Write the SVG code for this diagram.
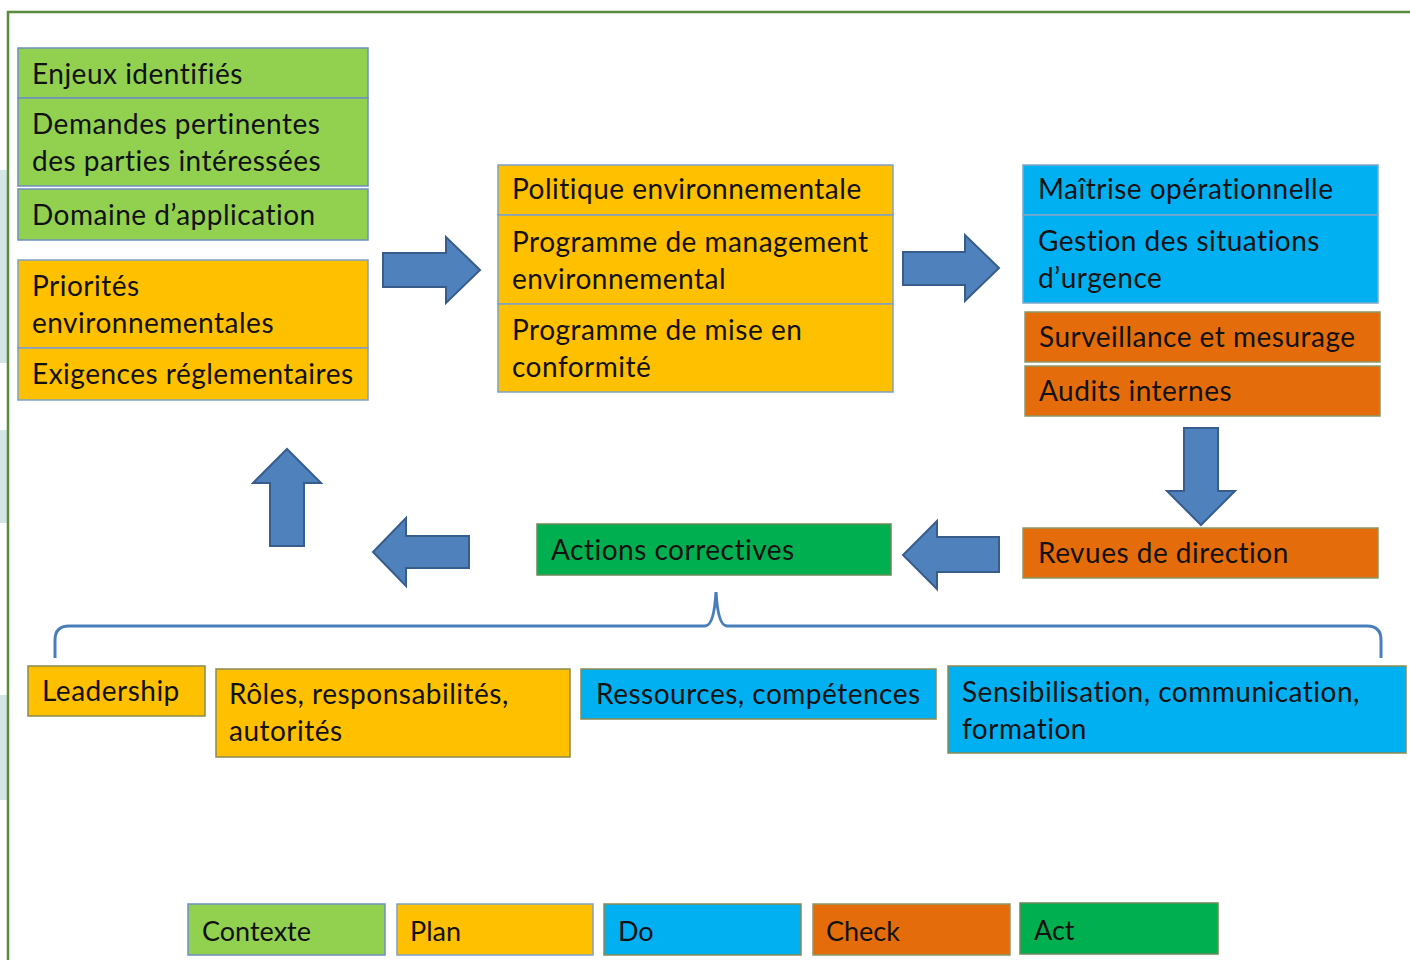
<svg xmlns="http://www.w3.org/2000/svg" width="1410" height="960" viewBox="0 0 1410 960">
<style>
text{font-family:Lato,"Liberation Sans",sans-serif;font-size:28px;letter-spacing:0.5px;fill:#111}
.lg{font-size:27px;letter-spacing:0}
.ctx{fill:#92d050;stroke:#6f8fc0;stroke-width:1.5}
.plan{fill:#ffc000;stroke:#7ea0c8;stroke-width:1.5}
.do{fill:#00b0f0;stroke:#7fa6c8;stroke-width:1.5}
.chk{fill:#e46c0a;stroke:#8a9a6a;stroke-width:1.5}
.act{fill:#00b050;stroke:#6a8a5a;stroke-width:1.5}
.pb{stroke:#8a8a50}
.arr{fill:#4f81bd;stroke:#385d8a;stroke-width:2;stroke-linejoin:miter}
</style>
<rect width="1410" height="960" fill="#fff"/>
<g id="edge-strips" fill="#d3e6e3">
<rect x="0" y="170" width="7" height="193"/>
<rect x="0" y="430" width="7" height="93"/>
<rect x="0" y="695" width="7" height="105"/>
</g>
<path id="frame" d="M8,960 V12 H1410" fill="none" stroke="#5a8a3c" stroke-width="2.5"/>

<g id="n-enjeux"><rect class="ctx" x="18" y="48" width="350" height="50"/><text x="32" y="84">Enjeux identifiés</text></g>
<g id="n-demandes"><rect class="ctx" x="18" y="98" width="350" height="88"/><text x="32" y="134">Demandes pertinentes</text><text x="32" y="171">des parties intéressées</text></g>
<g id="n-domaine"><rect class="ctx" x="18" y="189" width="350" height="51"/><text x="32" y="225">Domaine d’application</text></g>
<g id="n-priorites"><rect class="plan" x="18" y="260" width="350" height="88"/><text x="32" y="296">Priorités</text><text x="32" y="333">environnementales</text></g>
<g id="n-exigences"><rect class="plan" x="18" y="348" width="350" height="52"/><text x="32" y="384">Exigences réglementaires</text></g>

<g id="n-politique"><rect class="plan" x="498" y="165" width="395" height="50"/><text x="512" y="199">Politique environnementale</text></g>
<g id="n-progmgmt"><rect class="plan" x="498" y="215" width="395" height="89"/><text x="512" y="252">Programme de management</text><text x="512" y="289">environnemental</text></g>
<g id="n-progconf"><rect class="plan" x="498" y="304" width="395" height="88"/><text x="512" y="340">Programme de mise en</text><text x="512" y="377">conformité</text></g>

<g id="n-maitrise"><rect class="do" x="1023" y="165" width="355" height="50"/><text x="1038" y="199">Maîtrise opérationnelle</text></g>
<g id="n-gestion"><rect class="do" x="1023" y="215" width="355" height="88"/><text x="1038" y="251">Gestion des situations</text><text x="1038" y="288">d’urgence</text></g>
<g id="n-surveillance"><rect class="chk" x="1025" y="312" width="355" height="50"/><text x="1039" y="347">Surveillance et mesurage</text></g>
<g id="n-audits"><rect class="chk" x="1025" y="366" width="355" height="50"/><text x="1039" y="401">Audits internes</text></g>
<g id="n-revues"><rect class="chk" x="1023" y="528" width="355" height="50"/><text x="1038" y="563">Revues de direction</text></g>
<g id="n-actions"><rect class="act" x="537" y="524" width="354" height="51"/><text x="551" y="560">Actions correctives</text></g>

<g id="n-leadership"><rect class="plan pb" x="28" y="666" width="177" height="50"/><text x="42" y="701">Leadership</text></g>
<g id="n-roles"><rect class="plan pb" x="216" y="669" width="354" height="88"/><text x="229" y="704">Rôles, responsabilités,</text><text x="229" y="741">autorités</text></g>
<g id="n-ressources"><rect class="do pb" x="581" y="669" width="355" height="50"/><text x="596" y="704">Ressources, compétences</text></g>
<g id="n-sensibilisation"><rect class="do pb" x="948" y="666" width="458" height="87"/><text x="962" y="702">Sensibilisation, communication,</text><text x="962" y="739">formation</text></g>

<g id="connectors">
<path class="arr" d="M383,253 H446 V237 L480,270 L446,303 V287 H383 Z"/>
<path class="arr" d="M903,252 H965 V235 L999,268 L965,301 V285 H903 Z"/>
<path class="arr" d="M1184,428 H1218 V491 H1235 L1201,525 L1167,491 H1184 Z"/>
<path class="arr" d="M999,537 V572 H937 V589 L903,555 L937,521 V537 Z"/>
<path class="arr" d="M469,536 V568 H406 V586 L373,552 L406,518 V536 Z"/>
<path class="arr" d="M270,546 V483 H253 L287,449 L321,483 H304 V546 Z"/>
<path id="brace" d="M55,658 V640 Q55,626 69,626 H705 Q714,626 716,592 Q718,626 727,626 H1367 Q1381,626 1381,640 V658" fill="none" stroke="#4a7ebb" stroke-width="3"/>
</g>

<g id="legend">
<g id="l-contexte"><rect class="ctx" x="188" y="904" width="197" height="51"/><text class="lg" x="202" y="941">Contexte</text></g>
<g id="l-plan"><rect class="plan" x="397" y="904" width="196" height="51"/><text class="lg" x="410" y="941">Plan</text></g>
<g id="l-do"><rect class="do pb" x="604" y="904" width="197" height="51"/><text class="lg" x="618" y="941">Do</text></g>
<g id="l-check"><rect class="chk" x="813" y="904" width="197" height="51"/><text class="lg" x="826" y="941">Check</text></g>
<g id="l-act"><rect class="act" x="1020" y="903" width="198" height="51"/><text class="lg" x="1034" y="940">Act</text></g>
</g>
</svg>
